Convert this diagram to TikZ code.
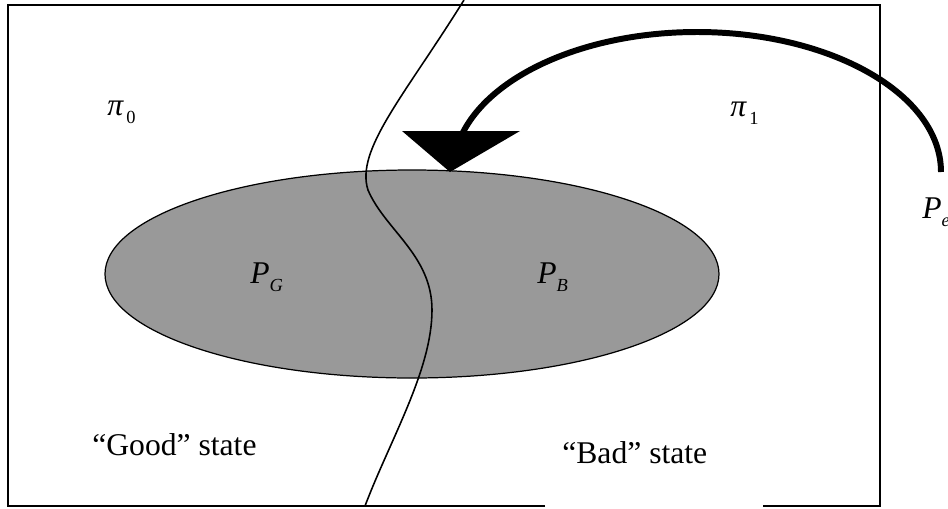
\documentclass[tikz,border=0pt]{standalone}
\usepackage{fontspec}
\setmainfont{Liberation Serif}
\definecolor{chaingray}{RGB}{153,153,153}
\newcommand{\lowsub}[1]{\raisebox{-4.8pt}{\fontsize{10.5}{10.5}\selectfont #1}}

\begin{document}
\begin{tikzpicture}[x=0.02cm, y=-0.02cm,
  frame/.style={line width=0.9pt},
  divider/.style={line width=0.9pt},
  chainarea/.style={draw, line width=0.7pt, fill=chaingray},
  feedback/.style={line width=3.4pt},
  symbol/.style={font=\fontsize{18}{20}\selectfont, inner sep=0pt, anchor=base west},
  statelabel/.style={font=\fontsize{18}{20}\selectfont, inner sep=0pt, anchor=base west}]
\useasboundingbox (0,0) rectangle (948,508);
% outer frame, open under the "Bad" label
\draw[frame] (545,506) -- (8,506) -- (8,5) -- (880,5) -- (880,506) -- (763,506);
\path[chainarea] (412,274) ellipse [x radius=307, y radius=104];
% border between the two states
\draw[divider] (464,0) .. controls (405,95) and (355,150) .. (368,190)
  .. controls (385,230) and (432,255) .. (432,310)
  .. controls (432,370) and (390,440) .. (365,506);
% error arrow
\coordinate (peend) at (941,172);
\draw[feedback] (peend) arc [start angle=0, end angle=-166, x radius=244, y radius=140];
\fill (402,131) -- (520,131) -- (450,172) -- cycle;
\node[symbol] (pi0) at (107,115) {\itshape π\lowsub{\upshape\,0}};
\node[symbol] (pi1) at (730,116) {\itshape π\lowsub{\upshape\,1}};
\node[symbol] (pg) at (250,283) {\itshape P\lowsub{G}};
\node[symbol] (pb) at (537,283) {\itshape P\lowsub{B}};
\node[symbol] (pe) at (922,218) {\itshape P\lowsub{e}};
\node[statelabel] (good) at (92,455) {“Good” state};
\node[statelabel] (bad) at (562,463) {“Bad” state};
\end{tikzpicture}
\end{document}
